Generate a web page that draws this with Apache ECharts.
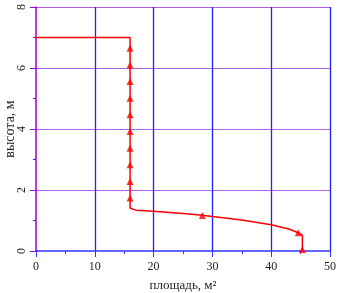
<!DOCTYPE html>
<html>
<head>
<meta charset="utf-8">
<script src="https://cdn.jsdelivr.net/npm/echarts@6/dist/echarts.min.js"></script>
<style>
  html, body { margin: 0; padding: 0; background: #fff; }
  #main { width: 337px; height: 293px; }
</style>
</head>
<body>
<div id="main"></div>
<script>
// profile curve (area, height)
var pathX = [0, 16, 16, 17, 20, 25, 28.3, 30, 35, 40, 43, 44.6, 45.3, 45.3];
var pathY = [7, 7, 1.40, 1.34, 1.30, 1.23, 1.17, 1.13, 1.02, 0.86, 0.72, 0.60, 0.52, 0];

// triangle markers
var markX = [16, 16, 16, 16, 16, 16, 16, 16, 16, 16, 28.3, 44.6, 45.3];
var markY = [6.65, 6.10, 5.56, 5.01, 4.47, 3.92, 3.37, 2.83, 2.28, 1.74, 1.16, 0.60, 0.05];

function pairs(xs, ys) {
    return xs.map(function (x, i) { return [x, ys[i]]; });
}

var chart = echarts.init(document.getElementById('main'));
var font = 'Liberation Serif';

var option = {
    animation: false,
    grid: { left: 36, right: 7, top: 7, bottom: 42, outerBoundsMode: 'none', containLabel: false },
    xAxis: {
        type: 'value',
        min: 0,
        max: 50,
        interval: 10,
        name: 'площадь, м²',
        nameLocation: 'middle',
        nameGap: 28,
        nameMoveOverlap: false,
        nameTextStyle: { fontFamily: font, fontSize: 13, color: '#222' },
        axisLine: { lineStyle: { color: '#3333ff', width: 1.5 } },
        axisTick: { length: 6, lineStyle: { color: '#3333ff' } },
        minorTick: { show: true, splitNumber: 2, length: 3, lineStyle: { color: '#3333ff' } },
        axisLabel: { fontFamily: font, fontSize: 12, color: '#222', margin: 10 },
        splitLine: { show: true, showMinLine: false, lineStyle: { color: '#2020ff', width: 1.3 } }
    },
    yAxis: {
        type: 'value',
        min: 0,
        max: 8,
        interval: 2,
        name: 'высота, м',
        nameLocation: 'middle',
        nameRotate: 90,
        nameGap: 26,
        nameMoveOverlap: false,
        nameTextStyle: { fontFamily: font, fontSize: 14, color: '#222', verticalAlign: 'middle' },
        axisLine: { show: true, lineStyle: { color: '#9900dd', width: 1.5 } },
        axisTick: { show: true, length: 6, lineStyle: { color: '#9900dd' } },
        minorTick: { show: true, splitNumber: 2, length: 3, lineStyle: { color: '#9900dd' } },
        axisLabel: { fontFamily: font, fontSize: 12, color: '#222', rotate: 90, margin: 8 },
        splitLine: { show: true, showMinLine: false, lineStyle: { color: '#b060e0', width: 1 } }
    },
    series: [
        {
            type: 'line',
            data: pairs(pathX, pathY),
            showSymbol: false,
            lineStyle: { color: '#ff0000', width: 1.5 },
            z: 3
        },
        {
            type: 'scatter',
            data: pairs(markX, markY),
            symbol: 'triangle',
            symbolSize: [7, 7],
            itemStyle: { color: '#ff0000' },
            z: 4
        }
    ]
};

chart.setOption(option);
</script>
</body>
</html>
